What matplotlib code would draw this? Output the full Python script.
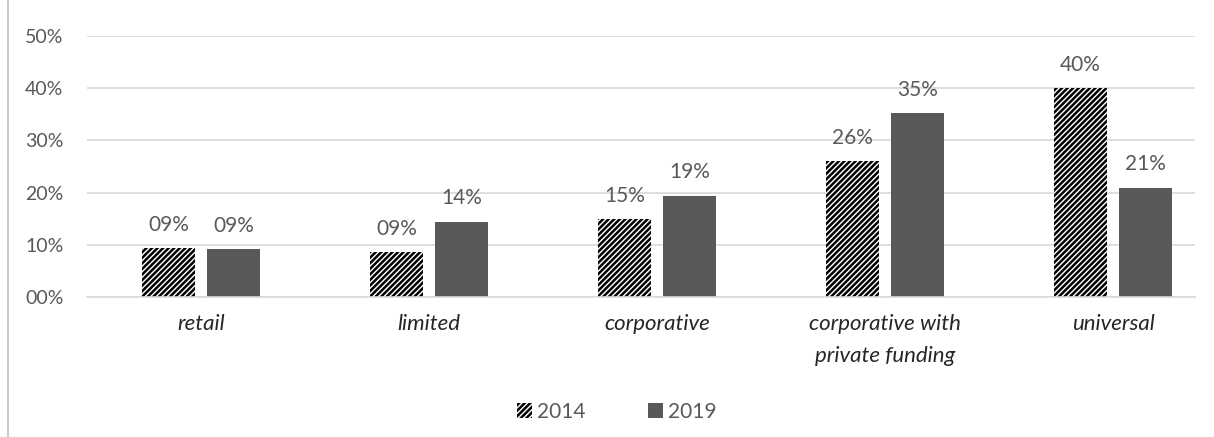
import matplotlib.pyplot as plt
import numpy as np
from matplotlib.lines import Line2D

plt.rcParams['font.family'] = ['Lato', 'DejaVu Sans']
plt.rcParams['hatch.linewidth'] = 1.8

categories = ['retail', 'limited', 'corporative', 'corporative with\nprivate funding', 'universal']
v2014 = [9.4, 8.6, 14.9, 26.0, 40.0]
v2019 = [9.2, 14.4, 19.4, 35.2, 20.9]
yticks = [0, 10, 20, 30, 40, 50]

grey = '#595959'
fig = plt.figure(figsize=(12.14, 4.37), dpi=100)
ax = fig.add_axes([0.0717, 0.32, 0.9127, 0.598])

x = np.arange(len(categories))
w = 0.233
gap = 0.053
b1 = ax.bar(x - w/2 - gap/2, v2014, w, color='white', edgecolor='black', hatch='//////', linewidth=0, label='2014')
b2 = ax.bar(x + w/2 + gap/2, v2019, w, color=grey, linewidth=0, label='2019')

for bars, vals in [(b1, v2014), (b2, v2019)]:
    for b, v in zip(bars, vals):
        ax.text(b.get_x() + b.get_width()/2, v + 4.5, '%02d%%' % round(v),
                ha='center', va='center', fontsize=15, color=grey)

ax.set_ylim(0, 50)
ax.set_xlim(-0.5, 4.36)
ax.set_yticks(yticks)
ax.set_yticklabels(['%02d%%' % t for t in yticks], fontsize=14, color=grey)
ax.yaxis.grid(True, color='#d9d9d9', linewidth=1.2)
ax.set_axisbelow(True)
ax.tick_params(axis='y', length=0, pad=17)
ax.tick_params(axis='x', length=0, pad=12)
ax.set_xticks(x)
ax.set_xticklabels(categories, fontsize=16, style='italic', color='#262626', linespacing=1.75)
for s in ['top', 'right', 'left']:
    ax.spines[s].set_visible(False)
ax.spines['bottom'].set_color('#d9d9d9')
ax.spines['bottom'].set_linewidth(1.2)

fig.legend(handles=[b1, b2], labels=['2014', '2019'], loc='center', bbox_to_anchor=(0.508, 0.058),
           ncol=2, frameon=False, fontsize=15, labelcolor=grey, handlelength=0.7, handleheight=0.7,
           columnspacing=3.0, handletextpad=0.25)

fig.add_artist(Line2D([0.007, 0.007], [0.0, 1.0], color='#bfbfbf', linewidth=1.2, transform=fig.transFigure))

fig.savefig('out.png', dpi=100)
